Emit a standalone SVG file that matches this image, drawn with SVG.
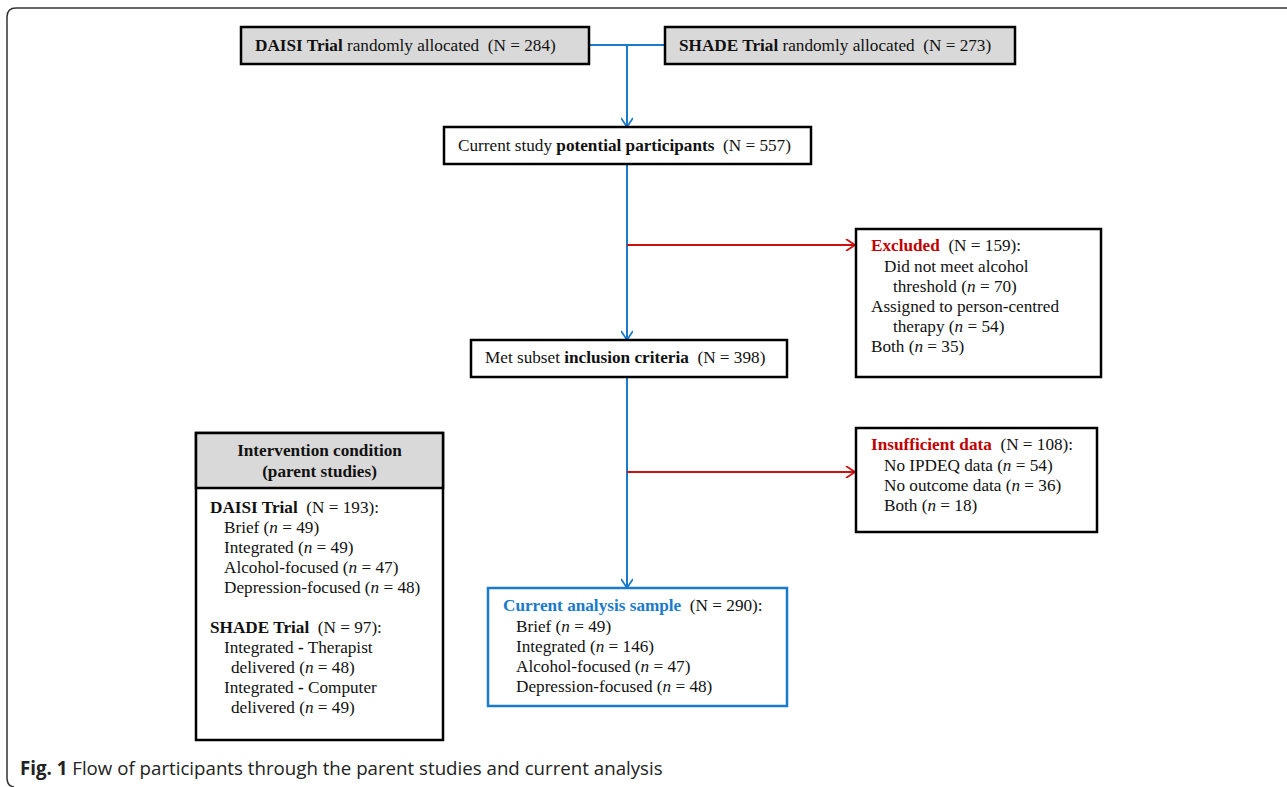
<svg xmlns="http://www.w3.org/2000/svg" width="1287" height="787" viewBox="0 0 1287 787" xml:space="preserve">
<defs>
<style>
text{font-family:"Liberation Serif","Times New Roman",serif;font-size:17.2px;fill:#111;white-space:pre}
.b{font-weight:bold}
.i{font-style:italic}
.box{fill:#fff;stroke:#000;stroke-width:2.5}
.grey{fill:#d9d9d9;stroke:#000;stroke-width:2.5}
.blue{stroke:#1a7acb;stroke-width:2;fill:none}
.red{stroke:#cc1111;stroke-width:1.8;fill:none}
.cap{font-family:"Open Sans","Liberation Sans",sans-serif;font-size:18.7px;fill:#222}
</style>
<marker id="ab" markerWidth="12" markerHeight="12" refX="10" refY="6" orient="auto" markerUnits="userSpaceOnUse">
<path d="M1,0 L10,6 L1,12" fill="none" stroke="#1a7acb" stroke-width="1.8"/>
</marker>
<marker id="ar" markerWidth="12" markerHeight="12" refX="10" refY="6" orient="auto" markerUnits="userSpaceOnUse">
<path d="M1,0 L10,6 L1,12" fill="none" stroke="#cc1111" stroke-width="1.8"/>
</marker>
</defs>
<rect width="1287" height="787" fill="#fff"/>
<path d="M1290,8 L16,8 Q7,8 7,17 L7,778 Q7,786 14,787" fill="none" stroke="#333" stroke-width="1.5"/>

<g id="connectors">
<path class="blue" d="M589,45 L665,45"/>
<path class="blue" d="M627,45 L627,127" marker-end="url(#ab)"/>
<path class="blue" d="M627,164 L627,340" marker-end="url(#ab)"/>
<path class="blue" d="M627,377 L627,588" marker-end="url(#ab)"/>
<path class="red" d="M627,245 L855,245" marker-end="url(#ar)"/>
<path class="red" d="M627,472 L855,472" marker-end="url(#ar)"/>
</g>

<g id="daisi">
<rect class="grey" x="241" y="27" width="348" height="37"/>
<text x="255" y="51"><tspan class="b">DAISI Trial</tspan> randomly allocated  (N = 284)</text>
</g>
<g id="shade">
<rect class="grey" x="665" y="27" width="350" height="37"/>
<text x="679" y="51"><tspan class="b">SHADE Trial</tspan> randomly allocated  (N = 273)</text>
</g>
<g id="potential">
<rect class="box" x="444" y="127" width="367" height="37"/>
<text x="458" y="151">Current study <tspan class="b">potential participants</tspan>  (N = 557)</text>
</g>
<g id="excluded">
<rect class="box" x="856" y="229" width="245" height="148"/>
<text x="871" y="251"><tspan class="b" style="fill:#c00000">Excluded</tspan>  (N = 159):</text>
<text x="884" y="272">Did not meet alcohol</text>
<text x="893" y="292">threshold (<tspan class="i">n</tspan> = 70)</text>
<text x="871" y="312">Assigned to person-centred</text>
<text x="893" y="332">therapy (<tspan class="i">n</tspan> = 54)</text>
<text x="871" y="352">Both (<tspan class="i">n</tspan> = 35)</text>
</g>
<g id="met">
<rect class="box" x="471" y="340" width="316" height="37"/>
<text x="485" y="363">Met subset <tspan class="b">inclusion criteria</tspan>  (N = 398)</text>
</g>
<g id="insufficient">
<rect class="box" x="856" y="428" width="241" height="104"/>
<text x="871" y="450"><tspan class="b" style="fill:#c00000">Insufficient data</tspan>  (N = 108):</text>
<text x="884" y="471">No IPDEQ data (<tspan class="i">n</tspan> = 54)</text>
<text x="884" y="491">No outcome data (<tspan class="i">n</tspan> = 36)</text>
<text x="884" y="511">Both (<tspan class="i">n</tspan> = 18)</text>
</g>
<g id="current">
<rect x="488" y="588" width="299" height="118" fill="#fff" stroke="#1a7acb" stroke-width="2.5"/>
<text x="503" y="611"><tspan class="b" style="fill:#1a7acb">Current analysis sample</tspan>  (N = 290):</text>
<text x="516" y="632">Brief (<tspan class="i">n</tspan> = 49)</text>
<text x="516" y="652">Integrated (<tspan class="i">n</tspan> = 146)</text>
<text x="516" y="672">Alcohol-focused (<tspan class="i">n</tspan> = 47)</text>
<text x="516" y="692">Depression-focused (<tspan class="i">n</tspan> = 48)</text>
</g>
<g id="intervention">
<rect class="box" x="196" y="433" width="247" height="307"/>
<rect class="grey" x="196" y="433" width="247" height="55"/>
<text class="b" x="319.500" y="456" text-anchor="middle">Intervention condition</text>
<text class="b" x="319.500" y="477" text-anchor="middle">(parent studies)</text>
<text x="210" y="513"><tspan class="b">DAISI Trial</tspan>  (N = 193):</text>
<text x="224" y="533">Brief (<tspan class="i">n</tspan> = 49)</text>
<text x="224" y="553">Integrated (<tspan class="i">n</tspan> = 49)</text>
<text x="224" y="573">Alcohol-focused (<tspan class="i">n</tspan> = 47)</text>
<text x="224" y="593">Depression-focused (<tspan class="i">n</tspan> = 48)</text>
<text x="210" y="633"><tspan class="b">SHADE Trial</tspan>  (N = 97):</text>
<text x="224" y="653">Integrated <tspan class="b">-</tspan> Therapist</text>
<text x="231" y="673">delivered (<tspan class="i">n</tspan> = 48)</text>
<text x="224" y="693">Integrated <tspan class="b">-</tspan> Computer</text>
<text x="231" y="713">delivered (<tspan class="i">n</tspan> = 49)</text>
</g>
<text class="cap" x="20" y="775"><tspan font-weight="bold">Fig. 1</tspan> Flow of participants through the parent studies and current analysis</text>
</svg>
